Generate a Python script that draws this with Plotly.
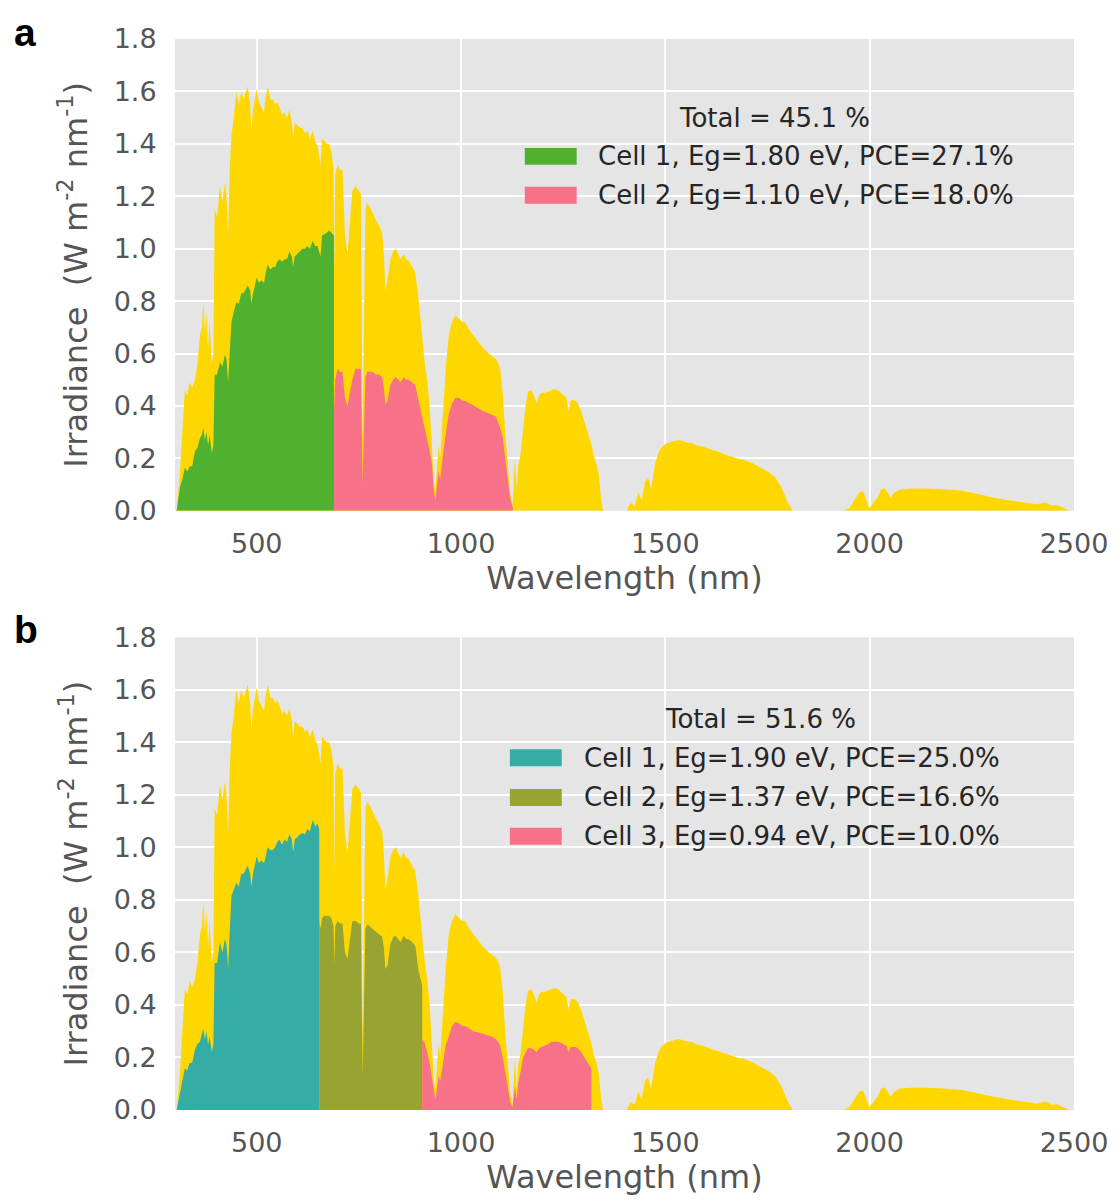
import plotly.graph_objects as go

# ---------------- data ----------------
wavelength = [300, 304, 312, 318, 324, 330, 336, 342, 349, 355, 361, 366, 369, 373, 377, 381, 385, 390, 394,
              397, 403, 410, 416, 422, 426, 430, 434, 438, 444, 450, 456, 462, 468, 474, 478, 484, 487, 491,
              496, 500, 505, 511, 518, 522, 527, 533, 539, 545, 550, 556, 562, 568, 574, 580, 586, 589, 593,
              600, 606, 612, 618, 624, 630, 637, 643, 649, 656, 660, 665, 671, 677, 683, 688, 690, 692, 698,
              704, 710, 716, 722, 728, 734, 742, 750, 755, 759, 762, 766, 771, 777, 783, 791, 799, 807, 811,
              815, 820, 827, 834, 840, 846, 852, 860, 866, 872, 880, 888, 896, 904, 910, 917, 923, 929, 933,
              937, 941, 945, 949, 953, 958, 963, 970, 978, 986, 995, 1003, 1010, 1020, 1030, 1043, 1055, 1068,
              1075, 1085, 1095, 1102, 1108, 1114, 1120, 1126, 1132, 1136, 1140, 1146, 1152, 1158, 1164, 1172,
              1178, 1185, 1191, 1197, 1205, 1213, 1221, 1229, 1237, 1245, 1252, 1258, 1263, 1268, 1274, 1280,
              1286, 1294, 1302, 1310, 1318, 1325, 1331, 1337, 1343, 1348, 1405, 1415, 1425, 1434, 1442, 1450,
              1458, 1465, 1475, 1483, 1490, 1500, 1507, 1520, 1532, 1545, 1556, 1564, 1575, 1590, 1600, 1613,
              1630, 1654, 1675, 1694, 1715, 1735, 1750, 1768, 1784, 1800, 1812, 1935, 1950, 1962, 1975, 1983,
              1990, 1999, 2010, 2019, 2028, 2036, 2044, 2051, 2060, 2076, 2100, 2141, 2180, 2222, 2260, 2304,
              2340, 2385, 2410, 2430, 2445, 2458, 2475, 2490]
irradiance = [0.0, 0.0, 0.14, 0.30, 0.46, 0.44, 0.49, 0.47, 0.50, 0.56, 0.67, 0.70, 0.80, 0.68, 0.76, 0.62, 0.72, 0.56, 0.60,
              1.15, 1.12, 1.24, 1.18, 1.25, 1.20, 1.05, 1.30, 1.43, 1.50, 1.60, 1.55, 1.60, 1.57, 1.60, 1.62, 1.55, 1.45, 1.53,
              1.58, 1.61, 1.56, 1.54, 1.52, 1.58, 1.62, 1.57, 1.57, 1.55, 1.56, 1.54, 1.51, 1.52, 1.50, 1.53, 1.48, 1.42, 1.48,
              1.47, 1.46, 1.46, 1.44, 1.45, 1.42, 1.45, 1.41, 1.39, 1.32, 1.42, 1.41, 1.40, 1.40, 1.37, 1.30, 0.90, 1.28, 1.32,
              1.30, 1.30, 1.05, 0.98, 1.10, 1.22, 1.24, 1.22, 1.21, 0.25, 0.60, 1.15, 1.175, 1.16, 1.14, 1.11, 1.09, 1.06, 0.98,
              0.84, 0.88, 0.96, 0.99, 1.00, 0.98, 0.96, 0.98, 0.96, 0.955, 0.93, 0.91, 0.81, 0.67, 0.58, 0.50, 0.40, 0.24, 0.12,
              0.07, 0.15, 0.25, 0.20, 0.30, 0.42, 0.55, 0.67, 0.72, 0.745, 0.73, 0.72, 0.72, 0.69, 0.67, 0.644, 0.62, 0.60,
              0.593, 0.58, 0.55, 0.45, 0.30, 0.18, 0.07, 0.02, 0.20, 0.08, 0.17, 0.22, 0.32, 0.40, 0.455, 0.46,
              0.44, 0.41, 0.44, 0.45, 0.45, 0.455, 0.46, 0.465, 0.46, 0.45, 0.44, 0.43, 0.38, 0.42, 0.423, 0.42,
              0.41, 0.38, 0.34, 0.30, 0.26, 0.21, 0.18, 0.14, 0.04, 0.0, 0.0, 0.03, 0.02, 0.07, 0.04, 0.11,
              0.125, 0.08, 0.18, 0.22, 0.24, 0.255, 0.26, 0.265, 0.27, 0.265, 0.26, 0.26, 0.25, 0.245, 0.24, 0.232,
              0.225, 0.21, 0.20, 0.194, 0.18, 0.163, 0.15, 0.13, 0.09, 0.03, 0.0, 0.0, 0.01, 0.04, 0.07, 0.075,
              0.05, 0.01, 0.03, 0.05, 0.08, 0.087, 0.07, 0.05, 0.07, 0.082, 0.085, 0.085, 0.082, 0.077, 0.066, 0.05,
              0.04, 0.03, 0.025, 0.032, 0.02, 0.022, 0.01, 0.0]

# Panel a: tandem cell
a_cell1_wl = [304, 312, 318, 324, 330, 336, 342, 349, 355, 361, 366, 369, 373, 377, 381, 385, 390, 394, 397, 403, 410,
              416, 422, 426, 430, 434, 438, 444, 450, 456, 462, 468, 474, 478, 484, 487, 491, 496, 500, 505, 511, 518,
              522, 527, 533, 539, 545, 550, 556, 562, 568, 574, 580, 586, 589, 593, 600, 606, 612, 618, 624, 630, 637,
              643, 649, 656, 660, 665, 671, 677, 683, 688, 689]
a_cell1_val = [0.0, 0.088, 0.12, 0.164, 0.15, 0.17, 0.17, 0.228, 0.24, 0.278, 0.29, 0.32, 0.27, 0.30, 0.25, 0.29, 0.22,
               0.25, 0.518, 0.52, 0.568, 0.55, 0.594, 0.58, 0.49, 0.62, 0.72, 0.76, 0.796, 0.79, 0.83, 0.83, 0.85, 0.86,
               0.84, 0.79, 0.83, 0.87, 0.89, 0.87, 0.88, 0.87, 0.91, 0.94, 0.92, 0.93, 0.93, 0.95, 0.96, 0.95, 0.96, 0.96,
               0.99, 0.97, 0.93, 0.97, 0.98, 0.99, 1.00, 1.00, 1.01, 1.00, 1.03, 1.01, 1.01, 0.97, 1.05, 1.055, 1.06, 1.07,
               1.06, 1.05, 1.05]
a_cell2_wl = [689, 690, 692, 698, 704, 710, 716, 722, 728, 734, 742, 750, 755, 759, 762, 766, 771, 777, 783, 791, 799,
              807, 811, 815, 820, 827, 834, 840, 846, 852, 860, 866, 872, 880, 888, 896, 904, 910, 917, 923, 929, 933,
              937, 941, 945, 949, 953, 958, 963, 970, 978, 986, 995, 1003, 1010, 1020, 1030, 1043, 1055, 1068, 1075,
              1085, 1095, 1102, 1108, 1114, 1120, 1126, 1127]
a_cell2_val = [0.50, 0.38, 0.50, 0.543, 0.53, 0.53, 0.43, 0.40, 0.45, 0.50, 0.543, 0.54, 0.54, 0.10, 0.25, 0.51, 0.53,
               0.53, 0.53, 0.52, 0.52, 0.51, 0.47, 0.404, 0.42, 0.48, 0.50, 0.51, 0.50, 0.49, 0.51, 0.50, 0.50, 0.49, 0.48,
               0.42, 0.366, 0.32, 0.28, 0.23, 0.177, 0.08, 0.04, 0.09, 0.15, 0.12, 0.18, 0.24, 0.30, 0.37, 0.41, 0.43,
               0.43, 0.42, 0.42, 0.41, 0.40, 0.39, 0.38, 0.37, 0.366, 0.36, 0.32, 0.28, 0.20, 0.12, 0.05, 0.015, 0.01]

# Panel b: triple-junction cell
b_cell1_wl = [304, 312, 318, 324, 330, 336, 342, 349, 355, 361, 366, 369, 373, 377, 381, 385, 390, 394, 397, 403, 410,
              416, 422, 426, 430, 434, 438, 444, 450, 456, 462, 468, 474, 478, 484, 487, 491, 496, 500, 505, 511, 518,
              522, 527, 533, 539, 545, 550, 556, 562, 568, 574, 580, 586, 589, 593, 600, 606, 612, 618, 624, 630, 637,
              643, 649, 653]
b_cell1_val = [0.0, 0.07, 0.11, 0.158, 0.15, 0.18, 0.18, 0.23, 0.25, 0.26, 0.29, 0.31, 0.27, 0.30, 0.25, 0.28, 0.22,
               0.25, 0.56, 0.56, 0.638, 0.60, 0.65, 0.63, 0.54, 0.68, 0.815, 0.84, 0.865, 0.85, 0.90, 0.90, 0.92, 0.93,
               0.90, 0.85, 0.90, 0.94, 0.966, 0.94, 0.95, 0.94, 0.97, 1.00, 0.99, 0.99, 1.00, 1.02, 1.03, 1.01, 1.03,
               1.02, 1.05, 1.03, 0.98, 1.03, 1.04, 1.05, 1.055, 1.05, 1.07, 1.06, 1.105, 1.08, 1.09, 1.07]
b_cell2_wl = [653, 656, 660, 665, 671, 677, 683, 688, 690, 692, 698, 704, 710, 716, 722, 728, 734, 742, 750, 755, 759,
              762, 766, 771, 777, 783, 791, 799, 807, 811, 815, 820, 827, 834, 840, 846, 852, 860, 866, 872, 880, 888,
              896, 904, 905]
b_cell2_val = [0.72, 0.69, 0.73, 0.74, 0.74, 0.74, 0.73, 0.70, 0.55, 0.70, 0.72, 0.71, 0.71, 0.60, 0.575, 0.64, 0.72,
               0.72, 0.71, 0.71, 0.13, 0.35, 0.69, 0.707, 0.70, 0.69, 0.68, 0.67, 0.66, 0.62, 0.537, 0.55, 0.63, 0.66,
               0.663, 0.65, 0.64, 0.663, 0.65, 0.65, 0.64, 0.625, 0.53, 0.48, 0.47]
b_cell3_wl = [905, 910, 917, 923, 929, 933, 937, 941, 945, 949, 953, 958, 963, 970, 978, 986, 995, 1003, 1010, 1020,
              1030, 1043, 1055, 1068, 1075, 1085, 1095, 1102, 1108, 1114, 1120, 1126, 1132, 1136, 1140, 1146, 1152,
              1158, 1164, 1172, 1178, 1185, 1191, 1197, 1205, 1213, 1221, 1229, 1237, 1245, 1252, 1258, 1263, 1268,
              1274, 1280, 1286, 1294, 1302, 1310, 1318, 1319]
b_cell3_val = [0.27, 0.26, 0.22, 0.18, 0.12, 0.07, 0.04, 0.08, 0.13, 0.11, 0.15, 0.20, 0.25, 0.28, 0.32, 0.335, 0.33,
               0.32, 0.32, 0.31, 0.30, 0.295, 0.29, 0.284, 0.28, 0.27, 0.25, 0.20, 0.15, 0.09, 0.03, 0.01, 0.09, 0.04,
               0.10, 0.15, 0.20, 0.22, 0.235, 0.235, 0.23, 0.22, 0.235, 0.24, 0.245, 0.25, 0.26, 0.26, 0.26, 0.255,
               0.25, 0.245, 0.22, 0.24, 0.24, 0.24, 0.235, 0.22, 0.20, 0.18, 0.16, 0.15]

a_total = "Total = 45.1 %"
a_labels = ["Cell 1, Eg=1.80 eV, PCE=27.1%", "Cell 2, Eg=1.10 eV, PCE=18.0%"]
b_total = "Total = 51.6 %"
b_labels = ["Cell 1, Eg=1.90 eV, PCE=25.0%", "Cell 2, Eg=1.37 eV, PCE=16.6%", "Cell 3, Eg=0.94 eV, PCE=10.0%"]

x_ticks = [500, 1000, 1500, 2000, 2500]
y_ticks = [0.0, 0.2, 0.4, 0.6, 0.8, 1.0, 1.2, 1.4, 1.6, 1.8]

# ---------------- styles ----------------
YELLOW = "#FFD700"
GREEN = "#50b131"
PINK = "#f77189"
TEAL = "#36ada4"
OLIVE = "#97a431"
FONT = "DejaVu Sans"
GRAY = "#555555"
TXT = "#262626"

fig = go.Figure()


def area(x, y, color, xa, ya):
    fig.add_trace(go.Scatter(x=x, y=y, mode="lines", fill="tozeroy", fillcolor=color,
                             line=dict(width=0, color=color), xaxis=xa, yaxis=ya,
                             showlegend=False, hoverinfo="x+y"))


area(wavelength, irradiance, YELLOW, "x", "y")
area(a_cell1_wl, a_cell1_val, GREEN, "x", "y")
area(a_cell2_wl, a_cell2_val, PINK, "x", "y")

area(wavelength, irradiance, YELLOW, "x2", "y2")
area(b_cell1_wl, b_cell1_val, TEAL, "x2", "y2")
area(b_cell2_wl, b_cell2_val, OLIVE, "x2", "y2")
area(b_cell3_wl, b_cell3_val, PINK, "x2", "y2")

axis_common = dict(
    showgrid=True, gridcolor="white", gridwidth=1.6, zeroline=False, showline=False,
    ticks="outside", tickcolor="rgba(0,0,0,0)",
    tickfont=dict(family=FONT, size=27, color=GRAY),
)
xaxis_common = dict(axis_common, range=[300, 2500], tickvals=x_ticks, ticklen=9,
                    ticktext=[str(t) for t in x_ticks],
                    title=dict(text="Wavelength (nm)", font=dict(family=FONT, size=32, color=GRAY), standoff=8))
yaxis_common = dict(axis_common, range=[0, 1.8], tickvals=y_ticks, ticklen=12,
                    ticktext=["%.1f" % t for t in y_ticks],
                    title=dict(text="Irradiance  (W m<sup>-2</sup> nm<sup>-1</sup>)",
                               font=dict(family=FONT, size=32, color=GRAY), standoff=16))

# page body has an 8 px margin, so the figure is 8 px smaller than the window
FIG_W, FIG_H = 1112, 1193
M_L, M_R, M_T, M_B = 167, 43, 31, 86
PLOT_H = FIG_H - M_T - M_B
PLOT_W = FIG_W - M_L - M_R

fig.update_layout(
    width=FIG_W, height=FIG_H,
    margin=dict(l=M_L, r=M_R, t=M_T, b=M_B),
    paper_bgcolor="white", plot_bgcolor="#E5E5E5",
    xaxis=dict(xaxis_common, domain=[0, 1], anchor="y"),
    yaxis=dict(yaxis_common, domain=[0.5595, 1.0], anchor="x"),
    xaxis2=dict(xaxis_common, domain=[0, 1], anchor="y2"),
    yaxis2=dict(yaxis_common, domain=[0.0, 0.4414], anchor="x2"),
    showlegend=False,
)

annotations = []
shapes = []


def legend(xref, yref, total, labels, colors, title_x, title_y, sw_x0, sw_x1, text_x, rows_y, half_h):
    annotations.append(dict(text=total, xref=xref, yref=yref, x=title_x, y=title_y, xanchor="center",
                            yanchor="middle", showarrow=False, font=dict(family=FONT, size=26, color=TXT)))
    for lab, col, yy in zip(labels, colors, rows_y):
        shapes.append(dict(type="rect", xref=xref, yref=yref, x0=sw_x0, x1=sw_x1, y0=yy - half_h,
                           y1=yy + half_h, fillcolor=col, line=dict(width=0), layer="above"))
        annotations.append(dict(text=lab, xref=xref, yref=yref, x=text_x, y=yy, xanchor="left",
                                yanchor="middle", showarrow=False,
                                font=dict(family=FONT, size=26, color=TXT)))


legend("x domain", "y domain", a_total, a_labels, [GREEN, PINK],
       0.6663, 0.8333, 0.3891, 0.4468, 0.4680, [0.7511, 0.6688], 0.0179)
legend("x2 domain", "y2 domain", b_total, b_labels, [TEAL, OLIVE, PINK],
       0.6508, 0.8274, 0.3725, 0.4302, 0.4525, [0.7453, 0.6611, 0.5789], 0.0179)

PLOT_BOTTOM = FIG_H - M_B
annotations.append(dict(text="<b>a</b>", xref="paper", yref="paper", x=(3 - M_L) / PLOT_W,
                        y=(PLOT_BOTTOM - 1) / PLOT_H, xanchor="left", yanchor="top", showarrow=False,
                        font=dict(family="Liberation Sans", size=39, color="black")))
annotations.append(dict(text="<b>b</b>", xref="paper", yref="paper", x=(3 - M_L) / PLOT_W,
                        y=(PLOT_BOTTOM - 601) / PLOT_H, xanchor="left", yanchor="top", showarrow=False,
                        font=dict(family="Liberation Sans", size=39, color="black")))

fig.update_layout(annotations=annotations, shapes=shapes)

fig.write_html("out.html")
